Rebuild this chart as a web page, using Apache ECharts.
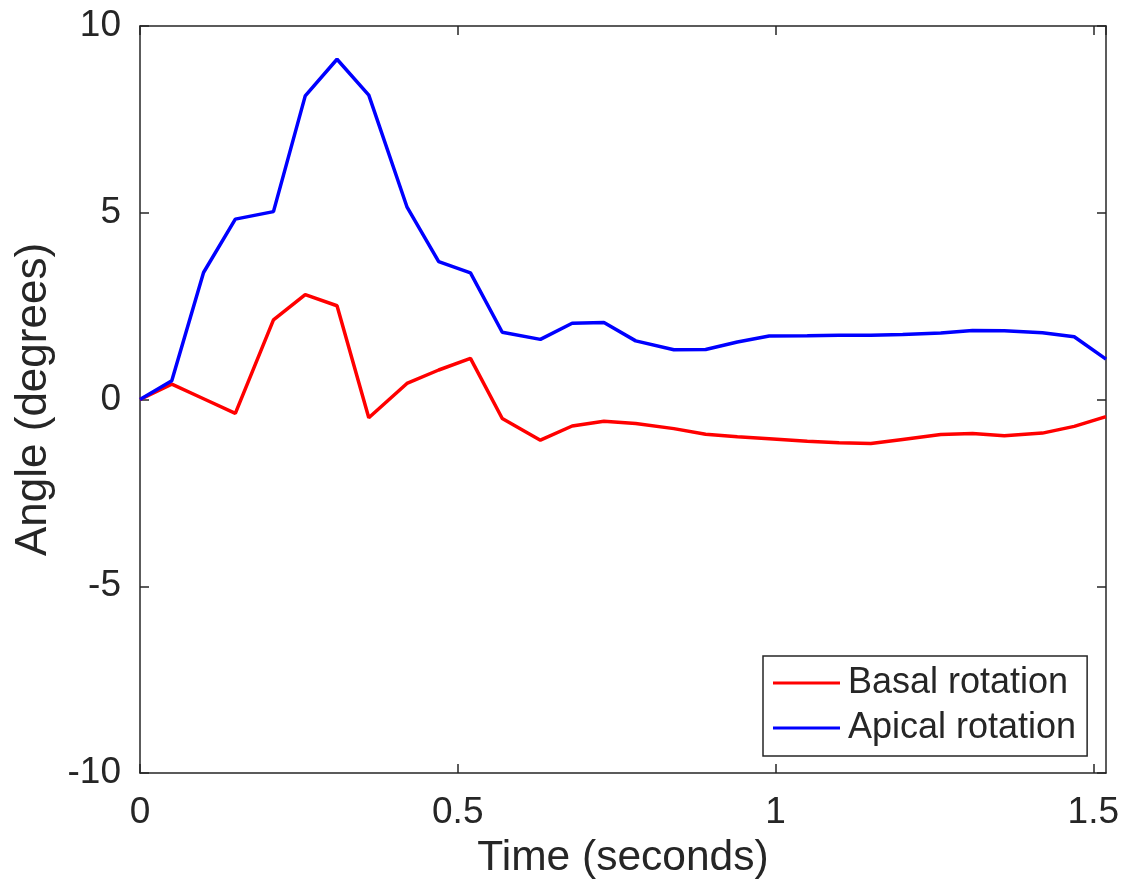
<!DOCTYPE html>
<html>
<head>
<meta charset="utf-8">
<script src="https://cdn.jsdelivr.net/npm/echarts@6/dist/echarts.min.js"></script>
<style>
html,body{margin:0;padding:0;background:#fff;}
#chart{width:1126px;height:892px;}
</style>
</head>
<body>
<div id="chart"></div>
<script>
var times = [0, 0.05, 0.10, 0.15, 0.21, 0.26, 0.31, 0.36, 0.42, 0.47, 0.52, 0.57, 0.63, 0.68, 0.73, 0.78, 0.84, 0.89, 0.94, 0.99, 1.05, 1.10, 1.15, 1.20, 1.26, 1.31, 1.36, 1.42, 1.47, 1.52];
var basal = [0, 0.41, 0.02, -0.37, 2.13, 2.81, 2.51, -0.49, 0.43, 0.79, 1.10, -0.51, -1.09, -0.71, -0.58, -0.64, -0.78, -0.93, -1.00, -1.05, -1.12, -1.16, -1.18, -1.07, -0.94, -0.91, -0.97, -0.90, -0.72, -0.46];
var apical = [0, 0.50, 3.40, 4.83, 5.03, 8.13, 9.11, 8.15, 5.16, 3.69, 3.39, 1.80, 1.61, 2.04, 2.06, 1.57, 1.33, 1.34, 1.54, 1.70, 1.71, 1.72, 1.72, 1.74, 1.78, 1.85, 1.84, 1.79, 1.68, 1.08];
var seriesNames = ['Basal rotation', 'Apical rotation'];
var xTickLabels = {'0': '0', '0.5': '0.5', '1': '1', '1.5': '1.5'};

function pairs(ts, vs) {
  return ts.map(function (t, i) { return [t, vs[i]]; });
}

var FONT = "'Liberation Sans', Arial, Helvetica, sans-serif";
var INK = '#262626';

var chart = echarts.init(document.getElementById('chart'), null, {renderer: 'canvas'});

function axisCommon(extra) {
  var base = {
    type: 'value',
    axisLine: {show: true, onZero: false, lineStyle: {color: INK, width: 1.5}},
    axisTick: {show: true, inside: true, length: 9, lineStyle: {color: INK, width: 1.5}},
    splitLine: {show: false}
  };
  for (var k in extra) base[k] = extra[k];
  return base;
}

chart.setOption({
  animation: false,
  backgroundColor: '#ffffff',
  grid: {left: 140, right: 20, top: 26, bottom: 119, containLabel: false},
  legend: {
    orient: 'vertical',
    left: 763,
    top: 656,
    data: seriesNames,
    icon: 'rect',
    backgroundColor: '#ffffff',
    borderColor: INK,
    borderWidth: 1.5,
    padding: [7, 11, 8, 10],
    itemWidth: 67,
    itemHeight: 3,
    itemGap: 5,
    textStyle: {fontFamily: FONT, fontSize: 36, color: INK, lineHeight: 40, padding: [0, 0, 0, 3]}
  },
  xAxis: [
    axisCommon({
      position: 'bottom',
      min: 0, max: 1.52, interval: 0.5,
      name: 'Time (seconds)',
      nameLocation: 'middle',
      nameGap: 64,
      nameTextStyle: {fontFamily: FONT, fontSize: 42.5, color: INK},
      axisLabel: {
        show: true, margin: 21, fontFamily: FONT, fontSize: 37, color: INK,
        showMaxLabel: false,
        formatter: function (v) { var k = String(Math.round(v * 100) / 100); return xTickLabels[k] !== undefined ? xTickLabels[k] : ''; }
      }
    }),
    axisCommon({
      position: 'top',
      min: 0, max: 1.52, interval: 0.5,
      axisLabel: {show: false}
    })
  ],
  yAxis: [
    axisCommon({
      position: 'left',
      min: -10, max: 10, interval: 5,
      name: 'Angle (degrees)',
      nameLocation: 'middle',
      nameGap: 84,
      nameRotate: 90,
      nameTextStyle: {fontFamily: FONT, fontSize: 44, color: INK},
      axisLabel: {show: true, margin: 19, fontFamily: FONT, fontSize: 37, color: INK}
    }),
    axisCommon({
      position: 'right',
      min: -10, max: 10, interval: 5,
      axisLabel: {show: false}
    })
  ],
  series: [
    {
      name: seriesNames[0], type: 'line', xAxisIndex: 0, yAxisIndex: 0,
      data: pairs(times, basal), symbol: 'none', showSymbol: false,
      lineStyle: {color: '#ff0000', width: 3.5}, itemStyle: {color: '#ff0000'}
    },
    {
      name: seriesNames[1], type: 'line', xAxisIndex: 0, yAxisIndex: 0,
      data: pairs(times, apical), symbol: 'none', showSymbol: false,
      lineStyle: {color: '#0000ff', width: 3.5}, itemStyle: {color: '#0000ff'}
    }
  ]
});
</script>
</body>
</html>
